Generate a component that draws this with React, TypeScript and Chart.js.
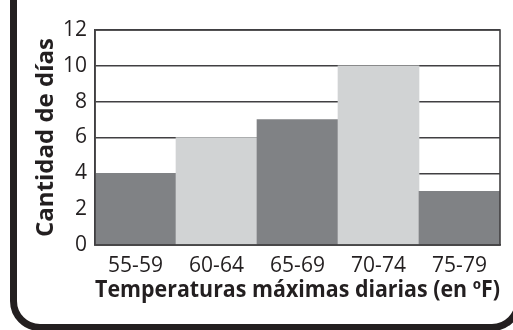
import React, { useEffect, useRef } from "react";
import { Chart, registerables } from "chart.js";

Chart.register(...registerables);

const categories = ["55-59", "60-64", "65-69", "70-74", "75-79"];
const counts = [4, 6, 7, 10, 3];
const barColors = ["#808285", "#d1d3d4", "#808285", "#d1d3d4", "#808285"];
const yTicks = [0, 2, 4, 6, 8, 10, 12];
const xTitle = "Temperaturas máximas diarias (en ºF)";
const yTitle = "Cantidad de días";

const INK = "#231f20";
const GRID = "#414042";

const frameBorder = {
  id: "frameBorder",
  afterDatasetsDraw(chart: any) {
    const { ctx, chartArea } = chart;
    ctx.save();
    ctx.strokeStyle = GRID;
    ctx.lineWidth = 1.6;
    ctx.strokeRect(chartArea.left, chartArea.top, chartArea.right - chartArea.left, chartArea.bottom - chartArea.top);
    ctx.restore();
  },
};

export default function App() {
  const ref = useRef<HTMLCanvasElement | null>(null);
  useEffect(() => {
    document.body.style.margin = "0";
    const chart = new Chart(ref.current!, {
      type: "bar",
      data: {
        labels: categories,
        datasets: [
          {
            data: counts,
            backgroundColor: barColors,
            borderWidth: 0,
            barPercentage: 1,
            categoryPercentage: 1,
          },
        ],
      },
      options: {
        animation: false,
        responsive: false,
        layout: { padding: { left: 32, right: 13, top: 30, bottom: 26 } },
        plugins: { legend: { display: false }, tooltip: { enabled: false } },
        scales: {
          x: {
            grid: { display: false },
            border: { display: true, color: GRID, width: 1.6 },
            ticks: {
              color: INK,
              font: { family: "'Open Sans', sans-serif", size: 21 },
              padding: 0,
            },
            title: {
              display: true,
              text: xTitle,
              color: INK,
              font: { family: "'Open Sans', sans-serif", size: 23, weight: "bold" },
              padding: 0,
            },
            afterFit: (s: any) => {
              s.height = 59;
            },
          },
          y: {
            min: 0,
            max: 12,
            afterBuildTicks: (s: any) => {
              s.ticks = yTicks.map((v) => ({ value: v }));
            },
            grid: { color: GRID, lineWidth: 1.6, drawTicks: false },
            border: { display: true, color: GRID, width: 1.6 },
            ticks: {
              color: INK,
              font: { family: "'Open Sans', sans-serif", size: 21 },
              padding: 8,
            },
            title: {
              display: true,
              text: yTitle,
              color: INK,
              font: { family: "'Open Sans', sans-serif", size: 24, weight: "bold" },
              padding: 0,
            },
            afterFit: (s: any) => {
              s.width = 63;
            },
          },
        },
      },
      plugins: [frameBorder],
    });
    return () => chart.destroy();
  }, []);

  return (
    <div style={{ position: "fixed", left: 0, top: 0, width: 513, height: 330, overflow: "hidden", background: "#fff" }}>
      <div
        style={{
          position: "absolute",
          left: 10,
          top: -30,
          width: 512,
          height: 361,
          boxSizing: "border-box",
          border: `7px solid ${INK}`,
          borderRadius: 30,
        }}
      />
      <canvas ref={ref} width={513} height={330} style={{ position: "absolute", left: 0, top: 0, width: 513, height: 330 }} />
    </div>
  );
}
